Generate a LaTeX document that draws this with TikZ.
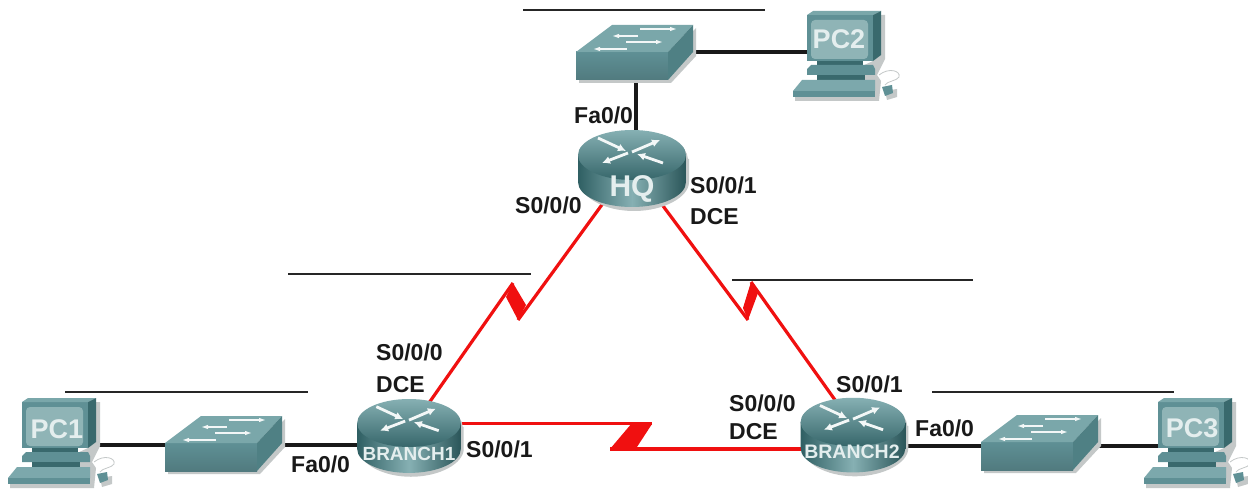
\documentclass[tikz,border=0pt]{standalone}
\usepackage{fontspec}
\setmainfont{Liberation Sans}
\usetikzlibrary{arrows.meta,shapes.geometric}
\definecolor{tealmain}{HTML}{5F9095}
\definecolor{tealdark}{HTML}{2F5F63}
\definecolor{teallight}{HTML}{86B0B3}
\definecolor{tealtop}{HTML}{4F8084}
\definecolor{tealscreen}{HTML}{8FB4B6}
\definecolor{shadowgray}{HTML}{C4C8C8}
\definecolor{devtext}{HTML}{E4EEEE}
\definecolor{linkred}{HTML}{F01010}
\tikzset{
  x=1pt,y=-1pt,
  portlabel/.style={anchor=base west,inner sep=0pt,font=\fontsize{23}{25}\selectfont\bfseries,text=black!90},
  devlabel/.style={anchor=base,inner sep=0pt,font=\bfseries,text=devtext},
  ghost/.style={inner sep=0pt,draw=none,fill=none},
  routerbox/.style={ghost,ellipse,minimum width=104pt,minimum height=78pt},
  switchbox/.style={ghost,rectangle,minimum width=117pt,minimum height=56pt},
  pcbox/.style={ghost,rectangle,minimum width=74pt,minimum height=40pt},
  wire/.style={line width=3.6pt,black!90},
  seriallink/.style={line width=3.2pt,linkred,line join=miter},
  bolt/.style={fill=linkred,draw=none},
  overbar/.style={line width=2pt,black!85},
  whitearrow/.style={white!90!teallight,line width=2.8pt,-{Latex[length=8pt,width=8pt]}},
  whitearrowthin/.style={white!90!teallight,line width=1.2pt,-{Latex[length=7pt,width=4.5pt]}},
  pics/routerpic/.style={code={
    \fill[shadowgray] (2,4) ellipse [x radius=54,y radius=25];
    \fill[shadowgray] (-52,27) .. controls (-52,42) and (-28,56) .. (2,56) .. controls (32,56) and (57,42) .. (57,27) -- (57,4) -- (-52,4) -- cycle;
    \shade[left color=tealdark,right color=tealdark!90!black,middle color=teallight]
      (-54,0) -- (-54,27) .. controls (-54,41) and (-30,52) .. (0,52) .. controls (30,52) and (54,41) .. (54,27) -- (54,0) -- cycle;
    \shade[top color=teallight,bottom color=tealdark!85!tealmain] (0,0) ellipse [x radius=54,y radius=25];
    \draw[whitearrow] (-34,-17) -- (-6,-4);
    \draw[whitearrow] (0,-3) -- (28,-15);
    \draw[whitearrow] (-4,-2) -- (-30,8);
    \draw[whitearrow] (31,8) -- (5,-1);
  }},
  pics/switchpic/.style={code={
    \fill[shadowgray] (3,3) -- (3,31) -- (95,31) -- (120,4) -- (120,-24) -- (95,3) -- cycle;
    \fill[tealmain] (0,0) -- (92,0) -- (92,28) -- (0,28) -- cycle;
    \shade[top color=tealmain,bottom color=tealmain!85!black] (0,0) rectangle (92,28);
    \fill[teallight!70!tealmain] (0,0) -- (36,-27) -- (117,-27) -- (92,0) -- cycle;
    \fill[tealtop] (92,0) -- (117,-27) -- (117,0) -- (92,28) -- cycle;
    \draw[whitearrowthin] (64,-23) -- (101,-23);
    \draw[whitearrowthin] (62,-16) -- (36,-16);
    \draw[whitearrowthin] (50,-10) -- (87,-10);
    \draw[whitearrowthin] (51,-3) -- (17,-3);
  }},
  pics/pcpic/.style={code={
    \fill[shadowgray] (74,0) -- (78,0) -- (78,44) -- (70,60) -- (74,66) -- (72,86) -- (-12,86) -- (-12,82) -- (66,46) -- cycle;
    \fill[shadowgray] (78,76) -- (90,74) -- (90,82) -- (80,85) -- cycle;
    \draw[shadowgray,line width=.8pt] (72,60) .. controls (82,52) and (94,56) .. (92,62) .. controls (90,66) and (80,66) .. (78,70);
    \fill[tealdark!80!tealmain] (10,46) rectangle (56,54);
    \fill[tealmain] (0,54) -- (4,50) -- (66,50) -- (68,54) -- (68,60) -- (0,60) -- cycle;
    \fill[tealdark!80!tealmain] (10,60) rectangle (58,66);
    \fill[teallight!75!tealmain] (-5,65) -- (68,65) -- (68,76) -- (-14,76) -- cycle;
    \fill[tealmain] (-14,76) rectangle (68,82);
    \fill[tealmain] (75,72) -- (85,70) -- (86,78) -- (78,81) -- cycle;
    \fill[tealmain] (0,0) rectangle (66,46);
    \fill[teallight!70!tealmain] (0,0) -- (6,-4) -- (74,-4) -- (66,0) -- cycle;
    \fill[tealdark!80!tealmain] (66,0) -- (74,-4) -- (74,40) -- (66,46) -- cycle;
    \fill[tealscreen,rounded corners=4pt] (4,5) rectangle (61,44);
  }}
}
\begin{document}
\begin{tikzpicture}
\useasboundingbox (0,0) rectangle (1248,489);
\fill[white] (0,0) rectangle (1248,489);
% named device areas
\node[routerbox,minimum width=108pt,minimum height=77pt] (hq) at (632,168.5) {};
\node[routerbox] (ra) at (409,439) {};
\node[routerbox] (rb) at (853,438) {};
\node[switchbox] (swb) at (636,52) {};
\node[switchbox] (swa) at (223.5,445) {};
\node[switchbox] (swc) at (1039.5,446) {};
\node[pcbox] (pcb) at (844,52) {};
\node[pcbox] (pca) at (59,445) {};
\node[pcbox] (pcc) at (1195,446) {};
% kink points
\coordinate (ka) at (513,283);
\coordinate (kb) at (518,320);
\coordinate (kc) at (748,320);
\coordinate (kd) at (751,282);
\coordinate (ke) at (652,424);
\coordinate (kf) at (610,449);
% ethernet wires
\draw[wire] (pcb.west) -- (swb.east);
\draw[wire] (swb.south) -- (swb.south |- hq.north);
\draw[wire] (pca.east) -- (swa.west);
\draw[wire] (swa.east) -- (swa.east -| ra.west);
\draw[wire] (swc.west) -- (swc.west -| rb.east);
\draw[wire] (swc.east) -- (pcc.west);
% serial links
\draw[seriallink] (hq.230) -- (kb);
\draw[seriallink] (ka) -- (ra.61);
\draw[bolt] (ka) -- (526,305) -- (kb) -- (506,297) -- cycle;
\draw[seriallink] (hq.310) -- (kc);
\draw[seriallink] (kd) -- (rb.115);
\draw[bolt] (kd) -- (758,293) -- (kc) -- (743,308) -- cycle;
\draw[seriallink] (ra.18) -- (ra.18 -| ke);
\draw[seriallink] (kf) -- (rb.west |- kf);
\draw[bolt] (ke) -- (632,423) -- (kf) -- (635,450) -- cycle;
% devices
\pic at (632,155) {routerpic};
\pic[scale=.96] at (409,423) {routerpic};
\pic[scale=.97] at (853,422) {routerpic};
\pic at (576,52) {switchpic};
\pic at (165,443) {switchpic};
\pic at (981,442) {switchpic};
\pic at (807,15) {pcpic};
\pic at (22,402) {pcpic};
\pic at (1158,402) {pcpic};
% device labels
\node[devlabel,font=\fontsize{30}{32}\selectfont\bfseries] (lhq) at (632,197) {HQ};
\node[devlabel,font=\fontsize{19}{21}\selectfont\bfseries] (lra) at (409,460) {BRANCH1};
\node[devlabel,font=\fontsize{19.5}{21}\selectfont\bfseries] (lrb) at (852,458) {BRANCH2};
\node[devlabel,font=\fontsize{27}{29}\selectfont\bfseries] (lpcb) at (839,49) {PC2};
\node[devlabel,font=\fontsize{27}{29}\selectfont\bfseries] (lpca) at (57,438) {PC1};
\node[devlabel,font=\fontsize{27}{29}\selectfont\bfseries] (lpcc) at (1192,437) {PC3};
% port labels
\node[portlabel] (p1) at (574,124) {Fa0/0};
\node[portlabel] (p2) at (515,214) {S0/0/0};
\node[portlabel] (p3) at (690,194) {S0/0/1};
\node[portlabel] (p4) at (690,225) {DCE};
\node[portlabel] (p5) at (376,360) {S0/0/0};
\node[portlabel] (p6) at (376,392) {DCE};
\node[portlabel] (p7) at (291,472) {Fa0/0};
\node[portlabel] (p8) at (466,457) {S0/0/1};
\node[portlabel] (p9) at (836,392) {S0/0/1};
\node[portlabel] (p10) at (729,411) {S0/0/0};
\node[portlabel] (p11) at (729,439) {DCE};
\node[portlabel] (p12) at (915,436) {Fa0/0};
% blank address rules
\coordinate (ba1) at (523,10); \coordinate (ba2) at (765,10);
\coordinate (bb1) at (288,274); \coordinate (bb2) at (531,274);
\coordinate (bc1) at (732,280); \coordinate (bc2) at (973,280);
\coordinate (bd1) at (65,392); \coordinate (bd2) at (308,392);
\coordinate (be1) at (932,392); \coordinate (be2) at (1174,392);
\draw[overbar] (ba1) -- (ba2);
\draw[overbar] (bb1) -- (bb2);
\draw[overbar] (bc1) -- (bc2);
\draw[overbar] (bd1) -- (bd2);
\draw[overbar] (be1) -- (be2);
\end{tikzpicture}
\end{document}
